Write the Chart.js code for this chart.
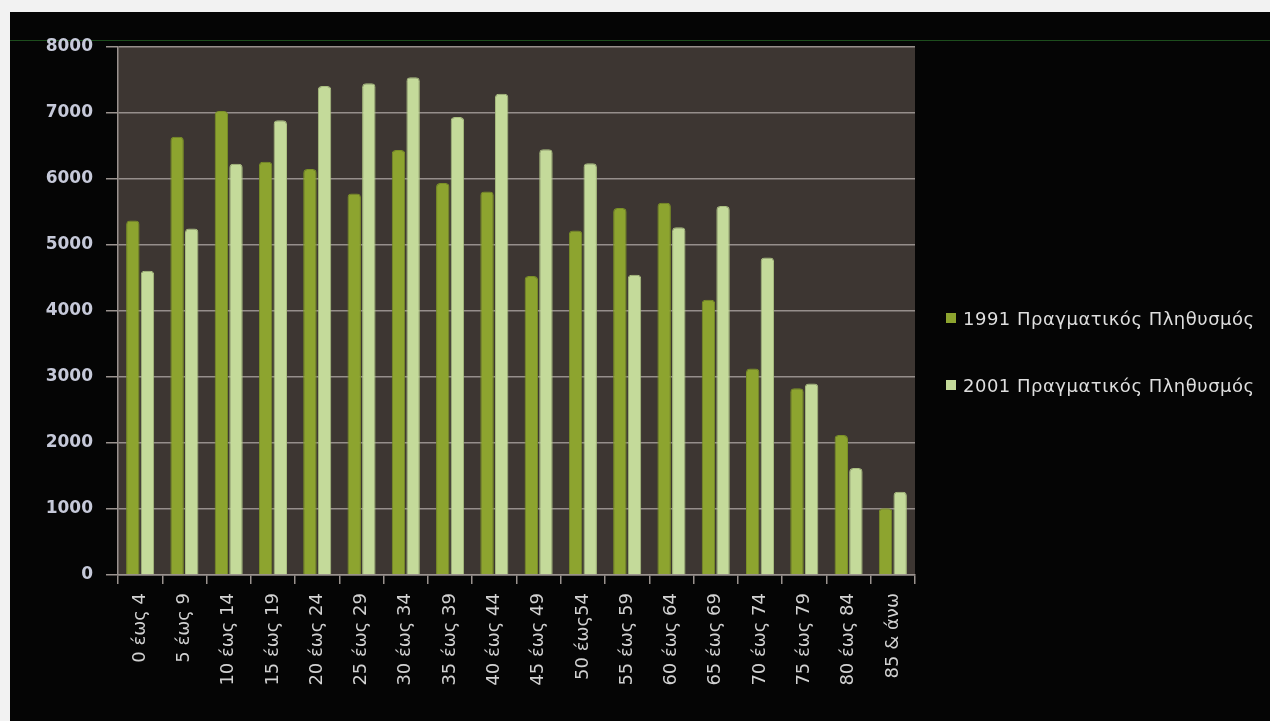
<!DOCTYPE html>
<html>
<head>
<meta charset="utf-8">
<script src="https://cdn.jsdelivr.net/npm/chart.js@4"></script>
<style>
  html, body { margin: 0; padding: 0; background: #f2f2f2; }
  .page { position: relative; width: 1270px; height: 721px; overflow: hidden; }
  .board { position: absolute; left: 10px; top: 12px; right: 0; bottom: 0; background: #050505; }
  .rule { position: absolute; left: 10px; right: 0; top: 40px; height: 1px; background: #1d4d1d; }
  canvas { position: absolute; left: 0; top: 0; }
  #legend { position: absolute; left: 946px; top: 307px; font: 18px "DejaVu Sans", sans-serif; letter-spacing: 0.5px; color: #dedede; }
  #legend .item { display: flex; align-items: center; height: 22px; margin-bottom: 45px; white-space: nowrap; }
  #legend .swatch { width: 10px; height: 10px; margin-right: 7px; }
</style>
</head>
<body>
<div class="page">
  <div class="board"></div>
  <div class="rule"></div>
  <canvas id="chart" width="1270" height="721"></canvas>
  <div id="legend"></div>
</div>
<script>
const ageGroups = [
  "0 έως 4", "5 έως 9", "10 έως 14", "15 έως 19", "20 έως 24", "25 έως 29",
  "30 έως 34", "35 έως 39", "40 έως 44", "45 έως 49", "50 έως54", "55 έως 59",
  "60 έως 64", "65 έως 69", "70 έως 74", "75 έως 79", "80 έως 84", "85 & άνω",
];

const pop1991 = [5370, 6640, 7030, 6260, 6150, 5780, 6440, 5940, 5810, 4530, 5220, 5560, 5640, 4170, 3130, 2830, 2120, 1010];
const pop2001 = [4610, 5250, 6230, 6890, 7410, 7450, 7540, 6940, 7290, 6450, 6240, 4550, 5270, 5590, 4810, 2900, 1620, 1260];

const seriesNames = ["1991 Πραγματικός Πληθυσμός", "2001 Πραγματικός Πληθυσμός"];

const plotBackground = {
  id: "plotBackground",
  beforeDraw(chart) {
    const { ctx, chartArea } = chart;
    ctx.save();
    ctx.fillStyle = "#3d3632";
    ctx.fillRect(chartArea.left, chartArea.top, chartArea.right - chartArea.left, chartArea.bottom - chartArea.top);
    ctx.restore();
  },
};

// legend as html, built from the chart's own legend items
const htmlLegend = {
  id: "htmlLegend",
  afterUpdate(chart) {
    const legendBox = document.getElementById("legend");
    legendBox.textContent = "";
    const items = Chart.defaults.plugins.legend.labels.generateLabels(chart);
    items.forEach((item) => {
      const row = document.createElement("div");
      row.className = "item";
      const swatch = document.createElement("span");
      swatch.className = "swatch";
      swatch.style.background = item.fillStyle;
      const text = document.createElement("span");
      text.textContent = item.text;
      row.append(swatch, text);
      legendBox.append(row);
    });
  },
};

const ctx = document.getElementById("chart").getContext("2d");

new Chart(ctx, {
  type: "bar",
  data: {
    labels: ageGroups,
    datasets: [
      {
        label: seriesNames[0],
        data: pop1991,
        backgroundColor: "#8da42f",
        borderColor: "#7a9026",
        borderWidth: 1,
        borderRadius: 4,
        categoryPercentage: 0.66,
        barPercentage: 0.92,
      },
      {
        label: seriesNames[1],
        data: pop2001,
        backgroundColor: "#c4da9a",
        borderColor: "#aabf80",
        borderWidth: 1,
        borderRadius: 4,
        categoryPercentage: 0.66,
        barPercentage: 0.92,
      },
    ],
  },
  options: {
    responsive: false,
    animation: false,
    layout: {
      padding: { left: 30, top: 47, right: 355, bottom: 0 },
    },
    scales: {
      y: {
        min: 0,
        max: 8000,
        ticks: {
          stepSize: 1000,
          color: "#c6c9d9",
          padding: 13,
          font: { family: "DejaVu Sans", size: 17, weight: "bold" },
          callback: (value) => String(value),
        },
        grid: {
          color: "#968e8b",
          lineWidth: 1.5,
          tickLength: 12,
          tickColor: "#9a928e",
        },
        border: { color: "#9a928e", width: 1.5 },
        afterFit(scale) {
          scale.width = 88;
        },
      },
      x: {
        ticks: {
          color: "#d2d2d2",
          minRotation: 90,
          maxRotation: 90,
          padding: 9,
          font: { family: "DejaVu Sans", size: 18 },
        },
        grid: {
          drawOnChartArea: false,
          drawTicks: true,
          tickLength: 9,
          color: "#9a928e",
          lineWidth: 1.5,
        },
        border: { color: "#9a928e", width: 1.5 },
        afterFit(scale) {
          scale.height = 146;
        },
      },
    },
    plugins: {
      legend: { display: false },
      tooltip: { enabled: false },
    },
  },
  plugins: [plotBackground, htmlLegend],
});
</script>
</body>
</html>
